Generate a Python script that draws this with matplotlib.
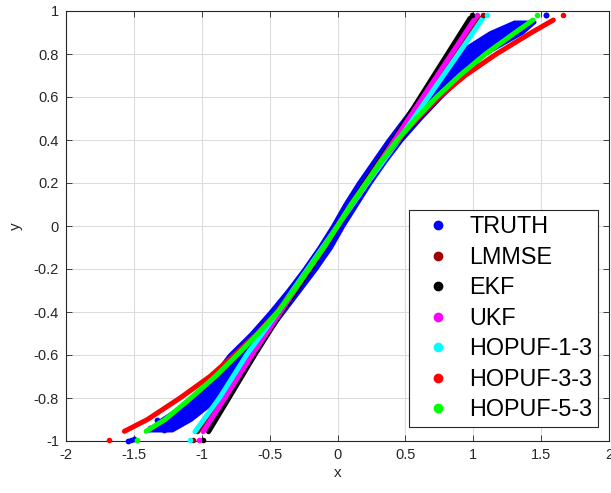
import matplotlib
matplotlib.use("Agg")
import matplotlib.pyplot as plt
from matplotlib.lines import Line2D

plt.rcParams['font.family'] = ['Liberation Sans', 'DejaVu Sans']
plt.rcParams['axes.unicode_minus'] = False

# TRUTH band (blue cloud): left and right edge of the cloud at each y
truth_y = [-0.95, -0.9, -0.8, -0.7, -0.6, -0.5, -0.4, -0.3, -0.2, -0.1, 0.0,
           0.1, 0.2, 0.3, 0.4, 0.5, 0.6, 0.7, 0.8, 0.9, 0.95]
truth_lo = [-1.40, -1.30, -1.06, -0.92, -0.80, -0.64, -0.50, -0.37, -0.25, -0.14, -0.04,
            0.05, 0.15, 0.26, 0.37, 0.49, 0.61, 0.74, 0.87, 1.12, 1.30]
truth_hi = [-1.22, -1.08, -0.88, -0.75, -0.64, -0.52, -0.40, -0.28, -0.16, -0.05, 0.04,
            0.14, 0.24, 0.35, 0.47, 0.61, 0.76, 0.92, 1.08, 1.36, 1.45]
truth_out_x = [-1.33, -1.28, -1.38, -1.54, -1.50, 1.535]
truth_out_y = [-0.90, -0.95, -0.94, -1.00, -0.99, 0.981]

# near-linear estimators
lin_y = [-0.957, -0.8, -0.6, -0.4, -0.2, 0.0, 0.2, 0.4, 0.6, 0.8, 0.966]
lmmse_x = [-1.03, -0.86, -0.65, -0.44, -0.22, 0.0, 0.22, 0.44, 0.65, 0.87, 1.055]
ekf_x = [-0.95, -0.80, -0.61, -0.41, -0.20, 0.0, 0.20, 0.41, 0.61, 0.81, 0.976]
ukf_x = [-0.99, -0.83, -0.63, -0.42, -0.21, 0.0, 0.21, 0.42, 0.63, 0.84, 1.013]
hop13_x = [-1.05, -0.87, -0.67, -0.44, -0.22, 0.0, 0.22, 0.45, 0.67, 0.89, 1.07]

# curved estimators
cur_y = [-0.955, -0.9, -0.8, -0.7, -0.6, -0.5, -0.4, -0.3, -0.2, -0.1, 0.0,
         0.1, 0.2, 0.3, 0.4, 0.5, 0.6, 0.7, 0.8, 0.9, 0.958]
hop33_x = [-1.57, -1.40, -1.16, -0.94, -0.76, -0.59, -0.445, -0.32, -0.21, -0.10, 0.0,
           0.10, 0.21, 0.32, 0.445, 0.59, 0.75, 0.94, 1.17, 1.43, 1.59]
hop53_x = [-1.41, -1.27, -1.08, -0.90, -0.74, -0.585, -0.44, -0.32, -0.21, -0.10, 0.0,
           0.10, 0.21, 0.32, 0.44, 0.58, 0.73, 0.90, 1.09, 1.31, 1.44]

# isolated end points (top row, bottom row)
names = ['TRUTH', 'LMMSE', 'EKF', 'UKF', 'HOPUF-1-3', 'HOPUF-3-3', 'HOPUF-5-3']
colors = ['#0000ff', '#a00000', '#000000', '#ff00ff', '#00ffff', '#ff0000', '#00ff00']
top_dot_x = [1.535, 1.07, 0.988, 1.025, 1.10, 1.66, 1.47]
bot_dot_x = [-1.52, -1.067, -0.99, -1.02, -1.087, -1.68, -1.475]
top_dot_y = 0.981
bot_dot_y = -0.997

fig = plt.figure(figsize=(6.11, 4.93), dpi=100)
ax = fig.add_axes([66 / 611, 1 - 441 / 493, (609 - 66) / 611, (441 - 11) / 493])

ax.fill_betweenx(truth_y, truth_lo, truth_hi, color=colors[0], lw=2.5, zorder=2)
ax.scatter(truth_out_x, truth_out_y, s=10, color=colors[0], zorder=2, clip_on=False)

curves = [(lmmse_x, lin_y), (ekf_x, lin_y), (ukf_x, lin_y), (hop13_x, lin_y),
          (hop33_x, cur_y), (hop53_x, cur_y)]
for i, (xs, yv) in enumerate(curves):
    ax.plot(xs, yv, color=colors[i + 1], lw=3.6, solid_capstyle='round',
            solid_joinstyle='round', zorder=3 + i)

for i in range(len(names)):
    ax.scatter([top_dot_x[i], bot_dot_x[i]], [top_dot_y, bot_dot_y], s=16,
               color=colors[i], zorder=10, clip_on=False, linewidths=0)

ax.set_xlim(-2, 2)
ax.set_ylim(-1, 1)
xt = [-2, -1.5, -1, -0.5, 0, 0.5, 1, 1.5, 2]
yt = [-1, -0.8, -0.6, -0.4, -0.2, 0, 0.2, 0.4, 0.6, 0.8, 1]
ax.set_xticks(xt)
ax.set_xticklabels(['%g' % v for v in xt])
ax.set_yticks(yt)
ax.set_yticklabels(['%g' % v for v in yt])
ax.tick_params(direction='in', length=4, width=0.6, colors='#262626', labelsize=10.5,
               top=True, right=True, pad=5)
ax.grid(True, color='#dcdcdc', lw=0.8)
ax.set_axisbelow(True)
for s in ax.spines.values():
    s.set_color('#262626')
    s.set_linewidth(0.8)
ax.set_xlabel('x', fontsize=11, color='#262626', labelpad=3)
ax.set_ylabel('y', fontsize=11, color='#262626', labelpad=8)

handles = [Line2D([], [], marker='o', linestyle='none', color=c, markersize=6) for c in colors]
leg = ax.legend(handles, names, loc='lower right', bbox_to_anchor=(0.9797, 0.0326),
                borderaxespad=0, fontsize=16.8, labelspacing=0.32, handletextpad=0.33,
                borderpad=0.25, handlelength=2.0, fancybox=False, framealpha=1,
                edgecolor='#262626')
leg.get_frame().set_linewidth(0.8)

fig.savefig('out.png', dpi=100)
